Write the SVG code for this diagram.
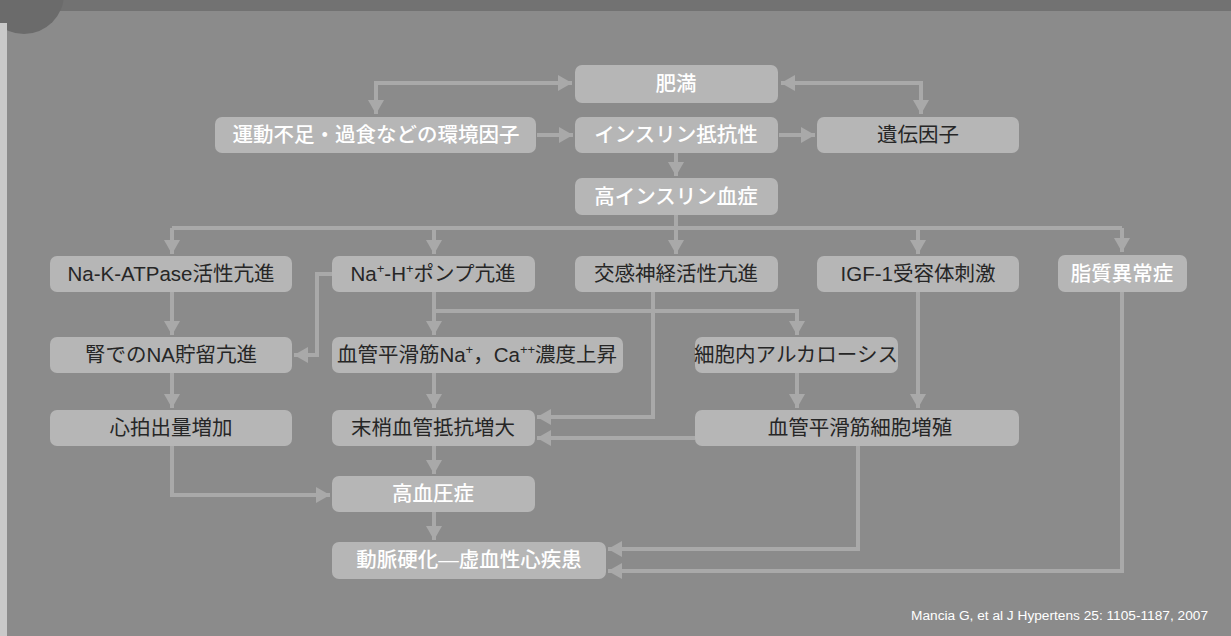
<svg xmlns="http://www.w3.org/2000/svg" width="1231" height="636" viewBox="0 0 1231 636">
<style>
.bx{fill:#b6b6b6;}
.t{font-family:"Liberation Sans","Noto Sans CJK JP",sans-serif;font-size:20.5px;text-anchor:middle;}
.d{fill:#262626;}
.w{fill:#ffffff;font-weight:500;}
.c{fill:none;stroke:#a9a9a9;stroke-width:4;}
.sup{font-size:13px;}
</style>
<defs>
<marker id="ah" markerUnits="userSpaceOnUse" markerWidth="14" markerHeight="16" viewBox="0 0 14 16" refX="14" refY="8" orient="auto-start-reverse">
<path d="M0,0 L14,8 L0,16 z" fill="#a9a9a9"/>
</marker>
</defs>
<rect x="0" y="0" width="1231" height="636" fill="#8b8b8b"/>
<rect x="0" y="0" width="1231" height="11" fill="#727272"/>
<circle cx="24" cy="-6" r="40" fill="#6b6b6b"/>
<rect x="0" y="23" width="7" height="613" fill="#c9c9c9"/>

<g id="connectors">
<path class="c" d="M572 83 H376 V114" marker-start="url(#ah)" marker-end="url(#ah)"/>
<path class="c" d="M781 83 H921 V114" marker-start="url(#ah)" marker-end="url(#ah)"/>
<path class="c" d="M537 135 H573" marker-end="url(#ah)"/>
<path class="c" d="M779 135 H815" marker-end="url(#ah)"/>
<path class="c" d="M676 153 V176" marker-end="url(#ah)"/>
<path class="c" d="M172 228 H1122"/>
<path class="c" d="M676 215 V254" marker-end="url(#ah)"/>
<path class="c" d="M172 228 V254" marker-end="url(#ah)"/>
<path class="c" d="M434 228 V254" marker-end="url(#ah)"/>
<path class="c" d="M918 228 V254" marker-end="url(#ah)"/>
<path class="c" d="M1122 228 V252" marker-end="url(#ah)"/>
<path class="c" d="M172 292 V335" marker-end="url(#ah)"/>
<path class="c" d="M172 372 V408" marker-end="url(#ah)"/>
<path class="c" d="M332 274 H317 V355 H294" marker-end="url(#ah)"/>
<path class="c" d="M434 292 V335" marker-end="url(#ah)"/>
<path class="c" d="M653 292 V417 H537" marker-end="url(#ah)"/>
<path class="c" d="M434 311 H797 V335" marker-end="url(#ah)"/>
<path class="c" d="M434 372 V408" marker-end="url(#ah)"/>
<path class="c" d="M797 373 V408" marker-end="url(#ah)"/>
<path class="c" d="M918 292 V408" marker-end="url(#ah)"/>
<path class="c" d="M695 438 H537" marker-end="url(#ah)"/>
<path class="c" d="M434 446 V474" marker-end="url(#ah)"/>
<path class="c" d="M172 446 V495 H330" marker-end="url(#ah)"/>
<path class="c" d="M434 512 V540" marker-end="url(#ah)"/>
<path class="c" d="M858 446 V549 H608" marker-end="url(#ah)"/>
<path class="c" d="M1122 292 V571 H608" marker-end="url(#ah)"/>
</g>

<g id="n-himan"><rect class="bx" x="575" y="65" width="203" height="38" rx="7"/><text class="t w" x="676" y="91">肥満</text></g>
<g id="n-kankyo"><rect class="bx" x="215" y="117" width="321" height="36" rx="7"/><text class="t w" x="376" y="142">運動不足・過食などの環境因子</text></g>
<g id="n-insulin-r"><rect class="bx" x="575" y="117" width="203" height="36" rx="7"/><text class="t w" x="676" y="142">インスリン抵抗性</text></g>
<g id="n-iden"><rect class="bx" x="817" y="117" width="202" height="36" rx="7"/><text class="t d" x="918" y="142">遺伝因子</text></g>
<g id="n-hyperins"><rect class="bx" x="575" y="178" width="203" height="37" rx="7"/><text class="t w" x="676" y="204">高インスリン血症</text></g>

<g id="n-nakatpase"><rect class="bx" x="50" y="256" width="242" height="36" rx="7"/><text class="t d" x="171" y="281">Na-K-ATPase活性亢進</text></g>
<g id="n-nah"><rect class="bx" x="332" y="256" width="203" height="36" rx="7"/><text class="t d" x="433" y="281">Na<tspan class="sup" dy="-8">+</tspan><tspan dy="8">-H</tspan><tspan class="sup" dy="-8">+</tspan><tspan dy="8">ポンプ亢進</tspan></text></g>
<g id="n-kokan"><rect class="bx" x="575" y="256" width="203" height="36" rx="7"/><text class="t d" x="676" y="281">交感神経活性亢進</text></g>
<g id="n-igf"><rect class="bx" x="817" y="256" width="202" height="36" rx="7"/><text class="t d" x="918" y="281">IGF-1受容体刺激</text></g>
<g id="n-shishitsu"><rect class="bx" x="1058" y="255" width="129" height="37" rx="7"/><text class="t w" x="1122" y="281">脂質異常症</text></g>

<g id="n-jin"><rect class="bx" x="50" y="337" width="242" height="36" rx="7"/><text class="t d" x="171" y="362">腎でのNA貯留亢進</text></g>
<g id="n-kekkan-na"><rect class="bx" x="332" y="337" width="291" height="36" rx="7"/><text class="t d" x="477" y="362">血管平滑筋Na<tspan class="sup" dy="-8">+</tspan><tspan dy="8">，Ca</tspan><tspan class="sup" dy="-8">++</tspan><tspan dy="8">濃度上昇</tspan></text></g>
<g id="n-alkalosis"><rect class="bx" x="695" y="337" width="203" height="36" rx="7"/><text class="t d" x="796" y="362">細胞内アルカローシス</text></g>

<g id="n-shinpaku"><rect class="bx" x="50" y="410" width="242" height="36" rx="7"/><text class="t d" x="171" y="435">心拍出量増加</text></g>
<g id="n-masho"><rect class="bx" x="332" y="410" width="203" height="36" rx="7"/><text class="t d" x="433" y="435">末梢血管抵抗増大</text></g>
<g id="n-zoshoku"><rect class="bx" x="695" y="410" width="324" height="36" rx="7"/><text class="t d" x="860" y="435">血管平滑筋細胞増殖</text></g>

<g id="n-koketsuatsu"><rect class="bx" x="332" y="476" width="203" height="36" rx="7"/><text class="t w" x="433" y="501">高血圧症</text></g>
<g id="n-domyaku"><rect class="bx" x="332" y="542" width="274" height="37" rx="7"/><text class="t w" x="469" y="567">動脈硬化—虚血性心疾患</text></g>

<text x="1208" y="620" font-family="Liberation Sans, Arial, sans-serif" font-size="13.7" fill="#ffffff" text-anchor="end">Mancia G, et al J Hypertens 25: 1105-1187, 2007</text>
</svg>
